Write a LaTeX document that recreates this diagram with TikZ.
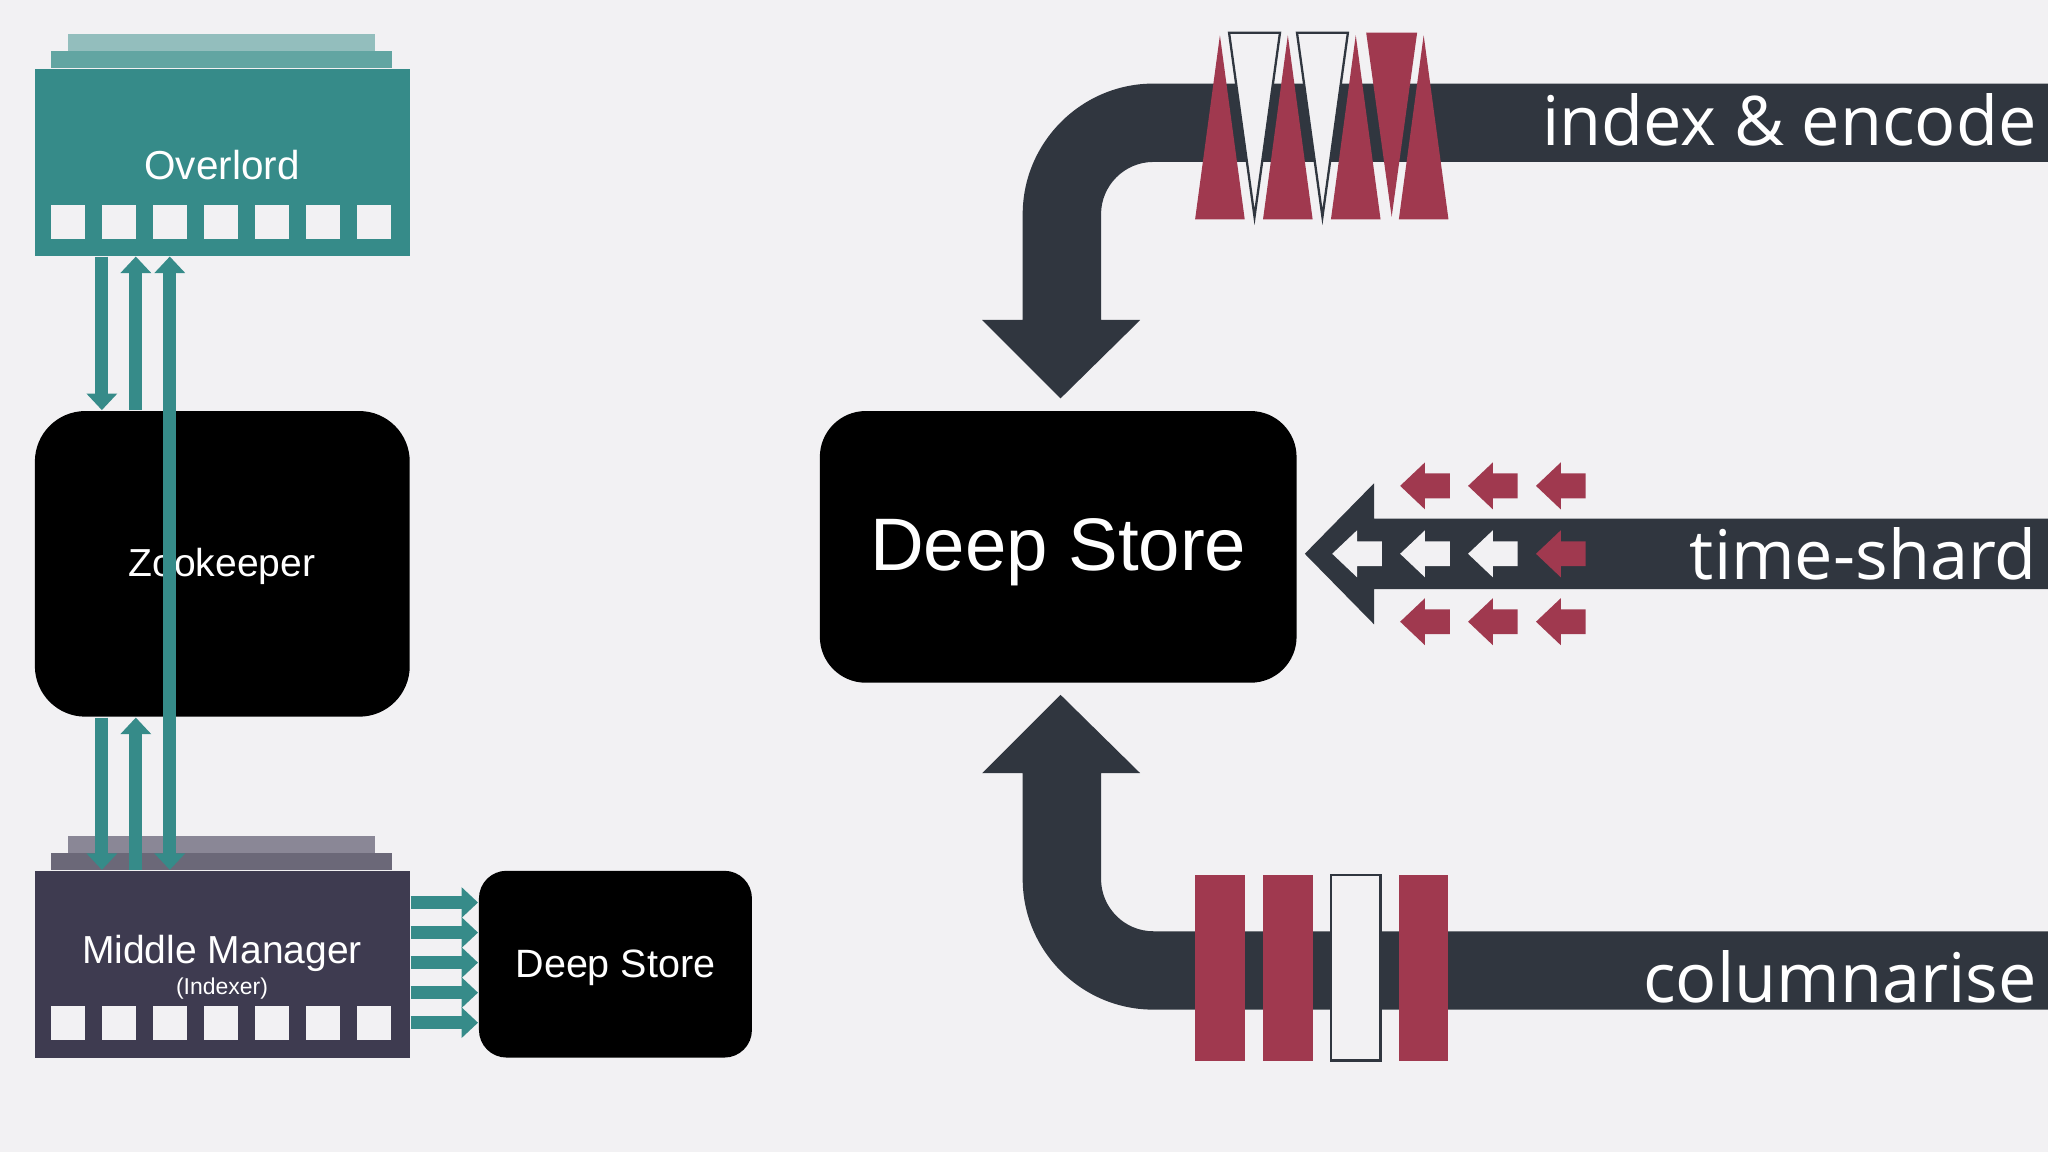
\documentclass[tikz,border=0pt]{standalone}
\usepackage{fontspec}
\setmainfont{Liberation Sans}
\newfontfamily\lbl{Open Sans}
\usetikzlibrary{arrows.meta,calc}
\definecolor{bg}{HTML}{F2F1F3}
\definecolor{dk}{HTML}{30363F}
\definecolor{rd}{HTML}{A0394F}
\definecolor{tl}{HTML}{368B89}
\definecolor{tl2}{HTML}{62A5A2}
\definecolor{tl3}{HTML}{93BEBD}
\definecolor{mm}{HTML}{3E3B50}
\definecolor{mm2}{HTML}{6B6878}
\definecolor{mm3}{HTML}{8A8796}
\tikzset{
 blk/.style={fill=black,text=white,rounded corners=#1,inner sep=0pt},
 sq/.style={fill=bg},
 tarr/.style={draw=tl,line width=2.835pt,-{Triangle[length=3.6pt,width=6.5pt]}},
 tarr2/.style={draw=tl,line width=2.835pt,{Triangle[length=3.6pt,width=6.5pt]}-{Triangle[length=3.6pt,width=6.5pt]}},
 sarr/.pic={\fill (0,0)--(19,-18)--(19,-9.5)--(38,-9.5)--(38,9.5)--(19,9.5)--(19,18)--cycle;},
 lab/.style={text=white,font=\lbl\fontsize{14.9}{16}\selectfont,anchor=east,inner sep=0pt}
}
\begin{document}
\begin{tikzpicture}[x=0.01cm,y=-0.01cm]
\fill[bg] (0,0) rectangle (1568,882);
% Overlord
\fill[tl3] (52,26) rectangle (287,39);
\fill[tl2] (39,39) rectangle (300,52);
\node[fill=tl,minimum width=287*0.01cm,minimum height=143*0.01cm,anchor=north west,inner sep=0pt] (ov) at (26,52) {};
\node[text=white,font=\fontsize{8.8}{10}\selectfont] (ovt) at (170,126) {Overlord};
\foreach \i in {0,...,6} \fill[sq] (39+\i*39,157) rectangle ++(26,26);
% Zookeeper
\node[blk=11pt,minimum width=287*0.01cm,minimum height=234*0.01cm,anchor=north west] (zk) at (26,314) {};
\node[text=white,font=\fontsize{8.5}{10}\selectfont] (zkt) at (170,434) {Zookeeper};
% Middle Manager
\fill[mm3] (52,640) rectangle (287,653);
\fill[mm2] (39,653) rectangle (300,666);
\node[fill=mm,minimum width=287*0.01cm,minimum height=143*0.01cm,anchor=north west,inner sep=0pt] (mm) at (26,666) {};
\node[text=white,font=\fontsize{8.5}{10}\selectfont] (mmt) at (170,730) {Middle Manager};
\node[text=white,font=\fontsize{5}{6}\selectfont] (mmi) at (170,757) {(Indexer)};
\foreach \i in {0,...,6} \fill[sq] (39+\i*39,770) rectangle ++(26,26);
% small deep store
\node[blk=6pt,minimum width=209*0.01cm,minimum height=143*0.01cm,anchor=north west] (ds) at (366,666) {};
\node[text=white,font=\fontsize{8.6}{10}\selectfont] at ($(ds.center)+(0,3)$) {Deep Store};
% teal arrows
\coordinate (a1) at ($(ov.south west)+(52,0)$);
\coordinate (b1) at ($(zk.north west)+(52,0)$);
\coordinate (a2) at ($(ov.south west)+(78,0)$);
\coordinate (b2) at ($(zk.north west)+(78,0)$);
\coordinate (a3) at ($(ov.south west)+(104,0)$);
\coordinate (c3) at ($(mm.north west)+(104,0)$);
\coordinate (d1) at ($(zk.south west)+(52,0)$);
\coordinate (e1) at ($(mm.north west)+(52,0)$);
\coordinate (d2) at ($(zk.south west)+(78,0)$);
\coordinate (e2) at ($(mm.north west)+(78,0)$);
\draw[tarr] (a1) -- (b1);
\draw[tarr] (b2) -- (a2);
\draw[tarr2] (a3) -- (c3);
\draw[tarr] (d1) -- (e1);
\draw[tarr] (e2) -- (d2);
\foreach \y in {691,714,737,760,783}
  \draw[tarr] (mm.east |- 0,\y) -- (ds.west |- 0,\y);
% big deep store
\node[blk=10pt,minimum width=365*0.01cm,minimum height=208*0.01cm,anchor=north west] (bds) at (627,314) {};
\node[text=white,font=\fontsize{16.2}{18}\selectfont] at ($(bds.center)+(0,4)$) {Deep Store};
% top band
\fill[dk] (1568,64) -- (883,64) .. controls (828,64) and (783,109) .. (783,164) -- (783,245) -- (752,245) -- (812,305) -- (873,245) -- (843,245) -- (843,164) .. controls (843,142) and (861,124) .. (883,124) -- (1568,124) -- cycle;
\foreach \x in {915,967,1019,1071} \fill[rd] (\x,168) -- (\x+38,168) -- (\x+19,27) -- cycle;
\foreach \x in {941,993} \filldraw[fill=bg,draw=dk,line width=0.5pt] (\x,25) -- (\x+39,25) -- (\x+19.5,166) -- cycle;
\fill[rd] (1046,25) -- (1085,25) -- (1065.5,166) -- cycle;
\node[lab] at (1560,92) {index \& encode};
% bottom band
\fill[dk] (1568,773) -- (883,773) .. controls (828,773) and (783,728) .. (783,673) -- (783,592) -- (752,592) -- (812,532) -- (873,592) -- (843,592) -- (843,673) .. controls (843,695) and (861,713) .. (883,713) -- (1568,713) -- cycle;
\foreach \x in {915,967,1071} \fill[rd] (\x,670) rectangle ++(38,142);
\filldraw[fill=bg,draw=dk,line width=0.5pt] (1019,670) rectangle ++(38,142);
\node[lab] at (1560,748) {columnarise};
% time-shard
\fill[dk] (1568,397) -- (1052,397) -- (1052,370) -- (999,424) -- (1052,478) -- (1052,451) -- (1568,451) -- cycle;
\foreach \x in {1072,1124,1176} { \pic[fill=rd] at (\x,372) {sarr}; \pic[fill=rd] at (\x,476) {sarr}; }
\foreach \x in {1020,1072,1124} \pic[fill=bg] at (\x,424) {sarr};
\pic[fill=rd] at (1176,424) {sarr};
\node[lab] at (1560,424) {time-shard};
\end{tikzpicture}
\end{document}
